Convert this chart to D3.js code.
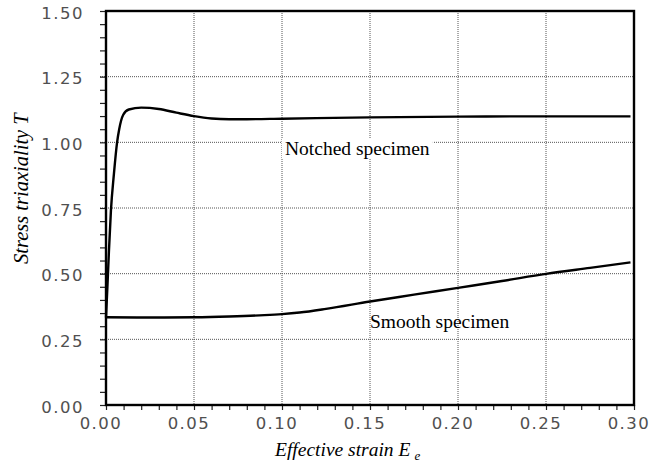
<!DOCTYPE html>
<html lang="en">
  <head>
    <meta charset="utf-8">
    <title>Stress triaxiality</title>
    <script src="https://d3js.org/d3.v7.min.js"></script>
    <style>
      body { margin: 0; background: #fff; }
    </style>
  </head>
  <body>
    <script>

// Data

  var notchedStrain = [0, 0.0008, 0.0017, 0.0028, 0.0045, 0.0063, 0.0075, 0.0098, 0.013, 0.020, 0.030, 0.040, 0.050, 0.060, 0.070, 0.080, 0.100, 0.150, 0.200, 0.250, 0.298];
  var notchedT      = [0.333, 0.45, 0.59, 0.74, 0.88, 1.00, 1.05, 1.105, 1.125, 1.132, 1.127, 1.113, 1.100, 1.091, 1.088, 1.088, 1.090, 1.095, 1.098, 1.099, 1.099];

  var smoothStrain = [0, 0.025, 0.050, 0.070, 0.090, 0.100, 0.110, 0.125, 0.150, 0.175, 0.200, 0.225, 0.250, 0.275, 0.298];
  var smoothT      = [0.334, 0.333, 0.334, 0.337, 0.342, 0.346, 0.352, 0.366, 0.394, 0.420, 0.446, 0.472, 0.499, 0.522, 0.543];

  var xTicks = [0, 0.05, 0.10, 0.15, 0.20, 0.25, 0.30];
  var yTicks = [0, 0.25, 0.50, 0.75, 1.00, 1.25, 1.50];

// Layout

  var width = 651, height = 468;
  var pLeft = 106, pRight = 634, pTop = 11, pBottom = 405;

  var svg = d3.select("body")
    .append("svg")
      .attr("width", width)
      .attr("height", height);

  var x = d3.scaleLinear().domain([0, 0.30]).range([pLeft, pRight]);
  var y = d3.scaleLinear().domain([0, 1.50]).range([pBottom, pTop]);

// Grid lines (dotted)

  svg.append("g").selectAll("line")
      .data(xTicks.slice(1, -1))
    .enter().append("line")
      .attr("x1", d => x(d)).attr("x2", d => x(d))
      .attr("y1", pTop).attr("y2", pBottom)
      .attr("stroke", "#555")
      .attr("stroke-width", 1)
      .attr("stroke-dasharray", "1,1");

  svg.append("g").selectAll("line")
      .data(yTicks.slice(1, -1))
    .enter().append("line")
      .attr("x1", pLeft - 6).attr("x2", pRight)
      .attr("y1", d => y(d)).attr("y2", d => y(d))
      .attr("stroke", "#555")
      .attr("stroke-width", 1)
      .attr("stroke-dasharray", "1,1");

// Axes with minor ticks

  var yAxis = d3.axisLeft(y)
      .tickValues(d3.range(0, 1.5001, 0.05))
      .tickSize(6)
      .tickFormat("");
  svg.append("g")
      .attr("transform", "translate(" + pLeft + ",0)")
      .call(yAxis)
      .call(g => g.select(".domain").remove())
      .selectAll("line").attr("stroke", "#222").attr("stroke-width", 1.2);

  var xAxis = d3.axisBottom(x)
      .tickValues(d3.range(0, 0.3001, 0.01))
      .tickSize(5)
      .tickFormat("");
  svg.append("g")
      .attr("transform", "translate(0," + pBottom + ")")
      .call(xAxis)
      .call(g => g.select(".domain").remove())
      .selectAll("line").attr("stroke", "#222").attr("stroke-width", 1.2);

// Tick labels

  svg.append("g").selectAll("text")
      .data(yTicks)
    .enter().append("text")
      .attr("x", 84)
      .attr("y", d => y(d) + 7.5)
      .attr("text-anchor", "end")
      .attr("font-family", "DejaVu Sans, sans-serif")
      .attr("font-size", 16.5)
      .attr("letter-spacing", 1.5)
      .attr("fill", "#505050")
      .text(d => d.toFixed(2));

  svg.append("g").selectAll("text")
      .data(xTicks)
    .enter().append("text")
      .attr("x", d => x(d) - 5)
      .attr("y", 429)
      .attr("text-anchor", "middle")
      .attr("font-family", "DejaVu Sans, sans-serif")
      .attr("font-size", 16.5)
      .attr("letter-spacing", 1.5)
      .attr("fill", "#505050")
      .text(d => d.toFixed(2));

// Frame

  svg.append("rect")
      .attr("x", pLeft).attr("y", pTop)
      .attr("width", pRight - pLeft).attr("height", pBottom - pTop)
      .attr("fill", "none")
      .attr("stroke", "#000")
      .attr("stroke-width", 2.4);

// Curves

  var line = d3.line()
      .x(d => x(d[0]))
      .y(d => y(d[1]))
      .curve(d3.curveMonotoneX);

  svg.append("path")
      .datum(d3.zip(notchedStrain, notchedT))
      .attr("d", line)
      .attr("fill", "none")
      .attr("stroke", "#000")
      .attr("stroke-width", 2.4);

  svg.append("path")
      .datum(d3.zip(smoothStrain, smoothT))
      .attr("d", line)
      .attr("fill", "none")
      .attr("stroke", "#000")
      .attr("stroke-width", 2.4);

// Annotations

  var labelBg = svg.append("rect").attr("fill", "#fff");
  var notchLabel = svg.append("text")
      .attr("x", 285)
      .attr("y", 155)
      .attr("font-family", "Liberation Serif, Times New Roman, serif")
      .attr("font-size", 19.5)
      .text("Notched specimen");
  var bb = notchLabel.node().getBBox();
  labelBg
      .attr("x", bb.x - 3).attr("y", bb.y)
      .attr("width", bb.width + 6).attr("height", bb.height);

  svg.append("text")
      .attr("x", 370)
      .attr("y", 328)
      .attr("font-family", "Liberation Serif, Times New Roman, serif")
      .attr("font-size", 19.5)
      .text("Smooth specimen");

// Axis titles

  var xTitle = svg.append("text")
      .attr("x", 275)
      .attr("y", 456)
      .attr("font-family", "Liberation Serif, Times New Roman, serif")
      .attr("font-style", "italic")
      .attr("font-size", 19.5);
  xTitle.append("tspan").text("Effective strain E");
  xTitle.append("tspan")
      .attr("dx", 4).attr("dy", 4)
      .attr("font-size", 13)
      .text("e");

  svg.append("text")
      .attr("transform", "translate(28,264) rotate(-90)")
      .attr("font-family", "Liberation Serif, Times New Roman, serif")
      .attr("font-style", "italic")
      .attr("font-size", 20.5)
      .text("Stress triaxiality T");

    </script>
  </body>
</html>
